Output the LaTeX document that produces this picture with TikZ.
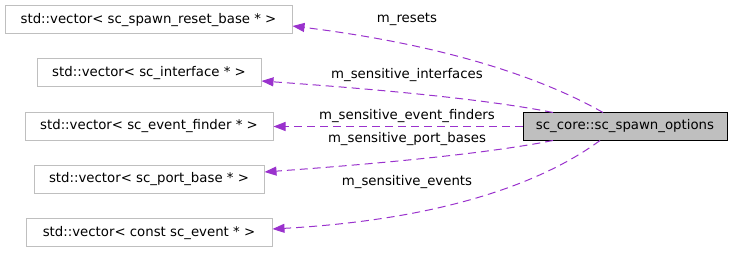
\documentclass[tikz,border=0pt]{standalone}
\usepackage{fontspec}
\setmainfont{DejaVu Sans}
\usetikzlibrary{arrows.meta}
\definecolor{edgecol}{HTML}{9A32CD}
\definecolor{boxgray}{HTML}{BFBFBF}
\definecolor{mainfill}{HTML}{BFBFBF}
\begin{document}
\begin{tikzpicture}[x=1pt,y=-1pt,
  every node/.style={font=\fontsize{13.3}{15}\selectfont, inner sep=0pt},
  tbox/.style={draw=boxgray, line width=1pt, fill=white, minimum height=28pt, anchor=center},
  mbox/.style={draw=black, line width=1pt, fill=mainfill, minimum height=28pt},
  rel/.style={draw=edgecol, line width=1pt, dash pattern=on 8pt off 5pt, -{Triangle[length=12pt,width=9pt,fill=edgecol]}},
  lbl/.style={text=black}]
\useasboundingbox (0,0) rectangle (733,253);
\node[tbox, minimum width=287pt] (reset) at (148.5,20) {std::vector< sc\_spawn\_reset\_base * >};
\node[tbox, minimum width=224pt] (iface) at (149,73) {std::vector< sc\_interface * >};
\node[tbox, minimum width=248pt] (finder) at (149,126.5) {std::vector< sc\_event\_finder * >};
\node[tbox, minimum width=230pt] (port) at (149,179.5) {std::vector< sc\_port\_base * >};
\node[tbox, minimum width=246pt] (event) at (149,233) {std::vector< const sc\_event * >};
\node[mbox, minimum width=204pt] (main) at (625,126.5) {sc\_core::sc\_spawn\_options};
\coordinate (m1) at (603,112.5);
\coordinate (m2) at (553,112.5);
\coordinate (m4) at (553,140.5);
\coordinate (m5) at (600,140.5);
\draw[rel] (m1) .. controls (560,88) and (470,48) .. (reset.east |- 0,26);
\draw[rel] (m2) .. controls (480,98) and (360,88) .. (iface.east |- 0,81);
\draw[rel] (main.west) -- (finder.east);
\draw[rel] (m4) .. controls (480,155) and (360,165) .. (port.east |- 0,172);
\draw[rel] (m5) .. controls (560,170) and (470,218) .. (event.east |- 0,229);
\node[lbl] (l1) at (407,19) {m\_resets};
\node[lbl] (l2) at (407,75) {m\_sensitive\_interfaces};
\node[lbl] (l3) at (407,116) {m\_sensitive\_event\_finders};
\node[lbl] (l4) at (407,139) {m\_sensitive\_port\_bases};
\node[lbl] (l5) at (407,182) {m\_sensitive\_events};
\end{tikzpicture}
\end{document}
